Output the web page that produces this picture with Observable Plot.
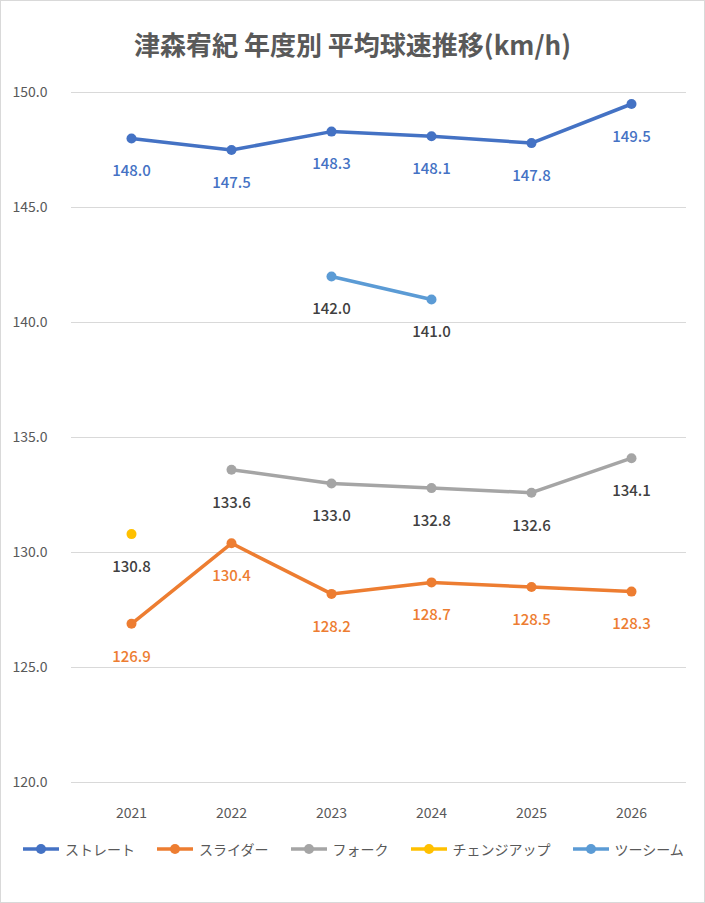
<!DOCTYPE html>
<html><head><meta charset="utf-8">
<script src="https://cdn.jsdelivr.net/npm/d3@7"></script>
<script src="https://cdn.jsdelivr.net/npm/@observablehq/plot@0.6"></script>
<style>
body{margin:0;font-family:"Noto Sans CJK JP","Noto Sans",sans-serif;}
#wrap{width:703px;height:901px;border:1px solid #d9d9d9;background:#fff;position:relative;}
#title{height:70px;line-height:86px;text-align:center;font-size:26px;font-weight:bold;color:#595959;}
#legend{display:flex;justify-content:center;gap:20px;font-size:14px;color:#595959;margin-top:8px;}
.it{display:flex;align-items:center;gap:4px;}
</style></head><body>
<div id="wrap"><div id="title">津森宥紀 年度別 平均球速推移(km/h)</div><div id="chart"></div><div id="legend"></div></div>
<script>
const years = ["2021","2022","2023","2024","2025","2026"];
const seriesNames = ["ストレート","スライダー","フォーク","チェンジアップ","ツーシーム"];
const colors = ["#4472C4","#ED7D31","#A5A5A5","#FFC000","#5B9BD5"];
const labelColors = ["#4472C4","#ED7D31","#404040","#404040","#404040"];
const straight = [148.0,147.5,148.3,148.1,147.8,149.5];
const slider = [126.9,130.4,128.2,128.7,128.5,128.3];
const fork = [null,133.6,133.0,132.8,132.6,134.1];
const changeup = [130.8,null,null,null,null,null];
const twoseam = [null,null,142.0,141.0,null,null];
const yTicks = [120,125,130,135,140,145,150];
const all = [straight,slider,fork,changeup,twoseam];
const data = [];
all.forEach((arr,si)=>arr.forEach((v,i)=>{ if(v!=null) data.push({s:seriesNames[si],year:years[i],v,lc:labelColors[si]}); }));
const plot = Plot.plot({
  width:703,height:760,marginLeft:78,marginRight:21,marginTop:21,marginBottom:49,
  style:{fontFamily:"'Noto Sans CJK JP',sans-serif"},
  x:{type:"point",domain:years,padding:0.5,label:null},
  y:{domain:[120,150],label:null},
  color:{domain:seriesNames,range:colors},
  marks:[
    Plot.ruleY(yTicks,{stroke:"#d9d9d9",insetLeft:-8,insetRight:-3}),
    Plot.axisY(yTicks,{tickSize:0,tickFormat:d=>d.toFixed(1),textAnchor:"start",dx:-58,fontSize:14,fill:"#595959"}),
    Plot.axisX({tickSize:0,fontSize:14,fill:"#595959",dy:17}),
    Plot.line(data,{x:"year",y:"v",z:"s",stroke:"s",strokeWidth:3.5}),
    Plot.dot(data,{x:"year",y:"v",fill:"s",r:5}),
    Plot.text(data,{x:"year",y:"v",text:d=>d.v.toFixed(1),fill:"lc",dy:33,fontSize:15,fontWeight:500})
  ]
});
document.getElementById("chart").appendChild(plot);
const lg=document.getElementById("legend");
seriesNames.forEach((n,i)=>{
  lg.innerHTML+=`<div class="it"><svg width="40" height="12"><line x1="2" x2="38" y1="6" y2="6" stroke="${colors[i]}" stroke-width="3.5"/><circle cx="20" cy="6" r="5" fill="${colors[i]}"/></svg>${n}</div>`;
});
</script></body></html>
